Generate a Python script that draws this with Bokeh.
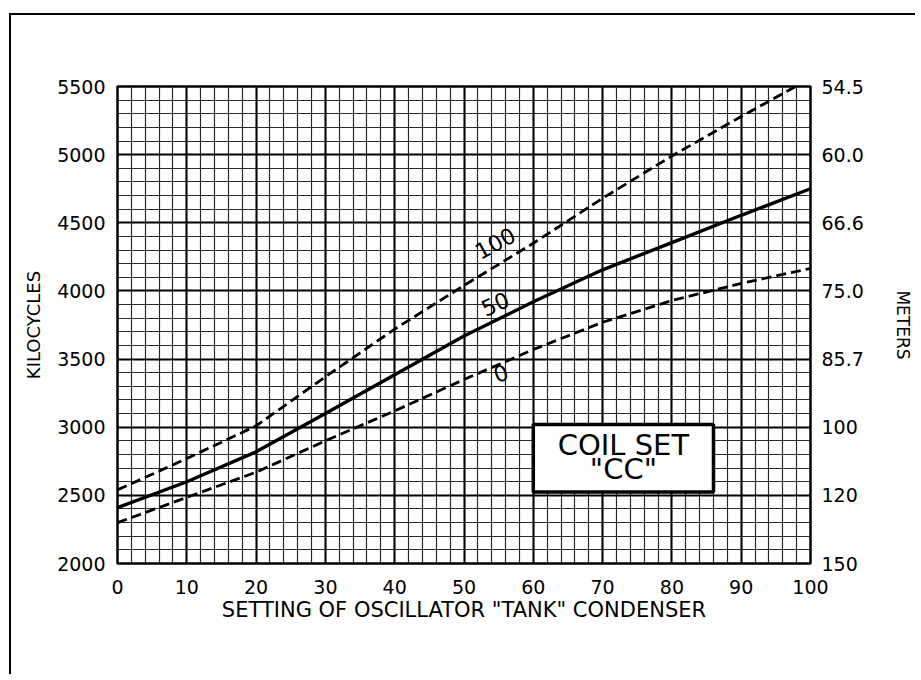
from bokeh.plotting import figure
from bokeh.models import (LinearAxis, FixedTicker, SingleIntervalTicker, Range1d,
                          BoxAnnotation, Label, InlineStyleSheet)
from bokeh.embed import file_html
from bokeh.resources import INLINE

# ---- data ----
setting = [0, 10, 20, 30, 40, 50, 60, 70, 80, 90, 100]
kc_100 = [2540, 2770, 3010, 3370, 3720, 4040, 4350, 4680, 4990, 5280, 5560]
kc_50 = [2410, 2600, 2820, 3100, 3385, 3670, 3920, 4155, 4355, 4555, 4750]
kc_0 = [2300, 2485, 2670, 2900, 3120, 3350, 3570, 3770, 3930, 4055, 4165]

x_ticks = [0, 10, 20, 30, 40, 50, 60, 70, 80, 90, 100]
kc_ticks = [2000, 2500, 3000, 3500, 4000, 4500, 5000, 5500]
meter_labels = ["150", "120", "100", "85.7", "75.0", "66.6", "60.0", "54.5"]

FONT = "DejaVu Sans"

p = figure(width=913, height=672, output_backend="svg", toolbar_location=None,
           x_range=Range1d(0, 100), y_range=Range1d(2000, 5500),
           min_border_left=117, min_border_right=103, min_border_top=86,
           min_border_bottom=109, frame_width=693, frame_height=477,
           y_axis_location=None, x_axis_location=None)
p.background_fill_color = "white"
p.border_fill_color = "white"
p.outline_line_color = "black"
p.outline_line_width = 2.5

# outer page frame (left and top rules of the printed page)
p.stylesheets = [InlineStyleSheet(css="""
:host { position: relative; }
:host::after {
  content: "";
  position: absolute;
  left: 9px; top: 13px;
  width: 904px; height: 659px;
  border-left: 2.5px solid black;
  border-top: 2.5px solid black;
  pointer-events: none;
  z-index: 5;
}
""")]

# grid
p.xgrid.ticker = SingleIntervalTicker(interval=10, num_minor_ticks=5)
p.ygrid.ticker = SingleIntervalTicker(interval=500, num_minor_ticks=5)
for g in (p.xgrid, p.ygrid):
    g.grid_line_color = "black"
    g.grid_line_width = 2
    g.minor_grid_line_color = "#2a2a2a"
    g.minor_grid_line_width = 1.2

def style_axis(ax, label_size="17px"):
    ax.major_tick_line_color = None
    ax.minor_tick_line_color = None
    ax.axis_line_color = None
    ax.major_label_text_font = FONT
    ax.major_label_text_font_size = "19px"
    ax.major_label_text_color = "black"
    ax.axis_label_text_font = FONT
    ax.axis_label_text_font_style = "normal"
    ax.axis_label_text_font_size = label_size
    ax.axis_label_text_color = "black"

xax = LinearAxis(ticker=FixedTicker(ticks=x_ticks),
                 axis_label='SETTING OF OSCILLATOR "TANK" CONDENSER')
style_axis(xax, "21px")
xax.major_label_standoff = 10
xax.axis_label_standoff = 1
p.add_layout(xax, "below")

yax = LinearAxis(ticker=FixedTicker(ticks=kc_ticks), axis_label="KILOCYCLES")
style_axis(yax, "18px")
yax.major_label_standoff = 6
yax.axis_label_standoff = 10
p.add_layout(yax, "left")

rax = LinearAxis(ticker=FixedTicker(ticks=kc_ticks), axis_label="METERS",
                 major_label_overrides={k: m for k, m in zip(kc_ticks, meter_labels)})
style_axis(rax, "17px")
rax.major_label_standoff = 5
rax.axis_label_standoff = 26
p.add_layout(rax, "right")

# curves
p.line(setting, kc_100, line_color="black", line_width=2.8, line_dash="10 5")
p.line(setting, kc_50, line_color="black", line_width=3.4)
p.line(setting, kc_0, line_color="black", line_width=2.8, line_dash="10 5")

# curve labels
for txt, xx, yy, ang in [("100", 54.5, 4350, 0.5), ("50", 54.5, 3905, 0.42), ("0", 55.3, 3395, 0.35)]:
    p.add_layout(Label(x=xx, y=yy, text=txt, angle=ang, text_align="center",
                       text_baseline="middle", text_font=FONT, text_font_size="22px",
                       text_color="black"))

# coil set box
p.add_layout(BoxAnnotation(left=60, right=86, bottom=2525, top=3020,
                           fill_color="white", fill_alpha=1.0,
                           line_color="black", line_alpha=1.0, line_width=3.5,
                           level="overlay"))
p.add_layout(Label(x=73, y=2870, text="COIL SET", text_align="center",
                   text_baseline="middle", text_font=FONT, text_font_size="29px",
                   text_color="black", level="overlay"))
p.add_layout(Label(x=73, y=2690, text='"CC"', text_align="center",
                   text_baseline="middle", text_font=FONT, text_font_size="29px",
                   text_color="black", level="overlay"))

open("out.html", "w").write(file_html(p, INLINE))
